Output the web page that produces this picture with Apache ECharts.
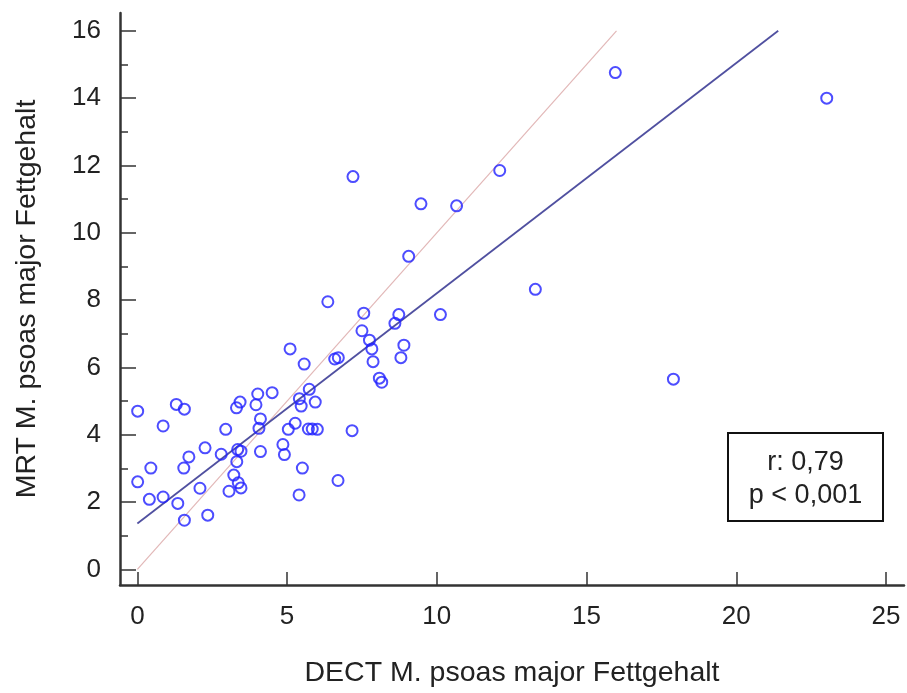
<!DOCTYPE html>
<html><head><meta charset="utf-8">
<script src="https://cdn.jsdelivr.net/npm/echarts@6/dist/echarts.min.js"></script>
<style>html,body{margin:0;padding:0;background:#fff}#c{width:907px;height:693px}</style>
</head><body><div id="c"></div>
<script>
const xTitle = 'DECT M. psoas major Fettgehalt';
const yTitle = 'MRT M. psoas major Fettgehalt';
const xTicks = [0, 5, 10, 15, 20, 25];
const yTicks = [0, 2, 4, 6, 8, 10, 12, 14, 16];
const yMinorTicks = [1, 3, 5, 7, 9, 11, 13, 15];
const dectX = [0.01,0.01,0.40,0.45,0.86,0.86,1.30,1.57,1.35,1.57,1.55,1.72,2.09,2.26,2.35,2.80,2.95,3.06,3.22,3.32,3.35,3.46,3.37,3.46,3.31,3.43,3.96,4.02,4.11,4.06,4.11,4.50,4.86,4.91,5.04,5.10,5.27,5.41,5.47,5.51,5.40,5.57,5.74,5.71,5.84,6.01,5.94,6.36,7.20,9.47,10.66,12.10,9.06,7.56,8.73,8.60,10.12,7.50,7.75,7.83,7.87,8.90,8.80,6.59,6.71,8.08,8.16,15.96,23.02,13.29,17.90,7.17,6.70];
const mrtY  = [4.70,2.60,2.08,3.01,4.26,2.15,4.90,4.76,1.96,1.46,3.01,3.34,2.41,3.61,1.61,3.42,4.16,2.32,2.80,3.20,3.56,3.51,2.57,2.42,4.80,4.97,4.89,5.21,4.47,4.19,3.50,5.25,3.71,3.41,4.16,6.55,4.34,5.07,4.85,3.01,2.21,6.10,5.35,4.17,4.17,4.16,4.97,7.95,11.67,10.86,10.80,11.85,9.30,7.61,7.57,7.31,7.57,7.09,6.81,6.55,6.17,6.66,6.29,6.25,6.29,5.68,5.56,14.76,14.00,8.32,5.65,4.12,2.64];
const fitLineX = [0, 21.4];
const fitLineY = [1.36, 16.0];
const identX = [0, 16];
const identY = [0, 16];
const statLines = ['r: 0,79', 'p < 0,001'];

const FONT = 'Liberation Sans';
const chart = echarts.init(document.getElementById('c'), null, {renderer: 'canvas'});
const pts = dectX.map((x, i) => [x, mrtY[i]]);
const axisLine = {show: true, onZero: false, lineStyle: {color: '#333', width: 2.5}};
chart.setOption({
  animation: false,
  backgroundColor: '#fff',
  grid: {left: 120, right: 3, top: 13, bottom: 106, containLabel: false},
  xAxis: {
    type: 'value', min: -0.58, max: 25.6,
    axisLine: axisLine, splitLine: {show: false},
    axisTick: {show: true, inside: true, length: 13, lineStyle: {color: '#333', width: 1.5}, customValues: xTicks},
    axisLabel: {customValues: xTicks, margin: 19, fontFamily: FONT, fontSize: 26, color: '#222'},
    name: xTitle, nameLocation: 'middle', nameGap: 74,
    nameTextStyle: {fontFamily: FONT, fontSize: 28.5, color: '#222'}
  },
  yAxis: [{
    type: 'value', min: -0.465, max: 16.53,
    axisLine: axisLine, splitLine: {show: false},
    axisTick: {show: true, inside: true, length: 16, lineStyle: {color: '#333', width: 1.5}, customValues: yTicks},
    axisLabel: {customValues: yTicks, margin: 19, fontFamily: FONT, fontSize: 26, color: '#222'},
    name: yTitle, nameLocation: 'middle', nameGap: 78,
    nameTextStyle: {fontFamily: FONT, fontSize: 28.5, color: '#222'}
  }, {
    type: 'value', min: -0.465, max: 16.53, position: 'left',
    axisLine: {show: false, onZero: false}, splitLine: {show: false},
    axisTick: {show: true, inside: true, length: 8, lineStyle: {color: '#333', width: 1.5}, customValues: yMinorTicks},
    axisLabel: {show: false}
  }],
  series: [{
    type: 'line', data: identX.map((x, i) => [x, identY[i]]), symbol: 'none',
    lineStyle: {color: '#e2b8b8', width: 1.2}, z: 1
  }, {
    type: 'line', data: fitLineX.map((x, i) => [x, fitLineY[i]]), symbol: 'none',
    lineStyle: {color: '#5050a0', width: 1.8}, z: 2
  }, {
    type: 'scatter', data: pts, symbol: 'circle', symbolSize: 11,
    itemStyle: {color: 'rgba(255,255,255,0)', borderColor: '#2020ff', borderWidth: 2}, z: 3
  }],
  graphic: [{
    type: 'group', left: 727, top: 432,
    children: [{
      type: 'rect', shape: {x: 0, y: 0, width: 155, height: 88},
      style: {fill: '#fff', stroke: '#111', lineWidth: 2}
    }, {
      type: 'text', x: 77.5, y: 30,
      style: {text: statLines[0], font: '27px "Liberation Sans"', fill: '#222', textAlign: 'center', textVerticalAlign: 'middle'}
    }, {
      type: 'text', x: 77.5, y: 63,
      style: {text: statLines[1], font: '27px "Liberation Sans"', fill: '#222', textAlign: 'center', textVerticalAlign: 'middle'}
    }]
  }]
});
</script></body></html>
